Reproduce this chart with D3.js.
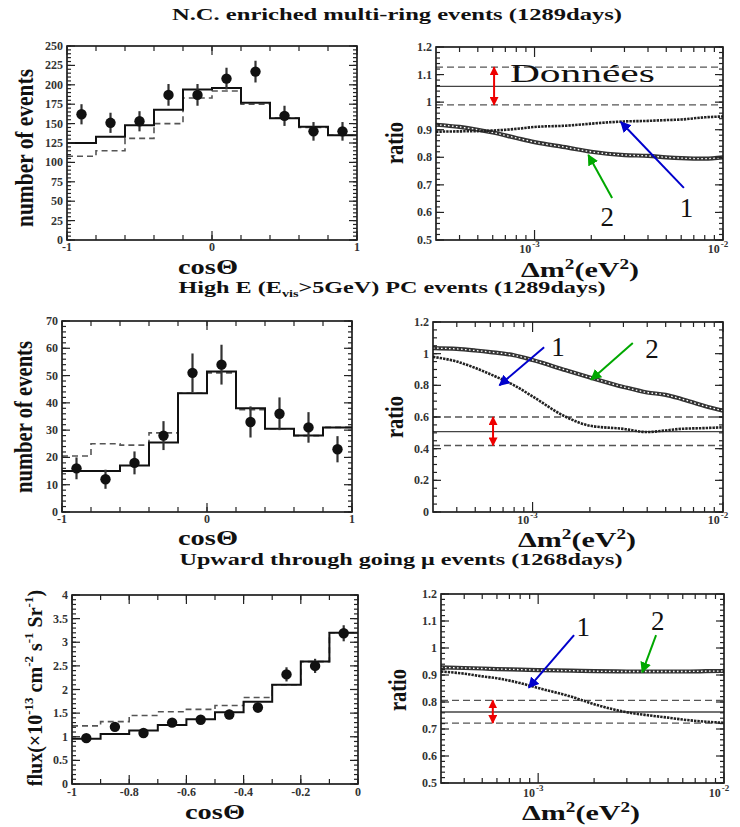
<!DOCTYPE html>
<html><head><meta charset="utf-8">
<script src="https://cdn.jsdelivr.net/npm/d3@7"></script>
<style>body{margin:0;background:#fff}</style>
</head><body>
<svg id="c" width="740" height="827" xmlns="http://www.w3.org/2000/svg"></svg>
<script>
// ---------- DATA ----------
const titles = [
  "N.C. enriched multi-ring events (1289days)",
  "High E (E_vis>5GeV) PC events (1289days)",
  "Upward through going \u03bc events (1268days)"
];
// cos(theta) bin edges
const cosEdges = [-1,-0.8,-0.6,-0.4,-0.2,0,0.2,0.4,0.6,0.8,1];
const upEdges  = [-1,-0.9,-0.8,-0.7,-0.6,-0.5,-0.4,-0.3,-0.2,-0.1,0];

// N.C. enriched multi-ring
const ncData   = [162,151,153,187,187,208,217,160,140,140];
const ncErr    = [13,13,13,14,14,14,14,13,12,12];
const ncSolid  = [125,133,148,168,194,196,177,157,146,135];
const ncDashed = [108,115,131,150,183,192,175,157,145,135];

// High E PC
const pcData   = [16,12,18,28,51,54,33,36,31,23];
const pcErr    = [4,3.5,4.2,5.3,7.1,7.3,5.7,6,5.6,4.8];
const pcSolid  = [15,15,17,25.5,43.5,51.5,38,30.5,28,31];
const pcDashed = [20.5,25,24.5,29,43.5,51,37.5,30.5,28,31];

// Upward through-going mu
const upData   = [0.97,1.21,1.08,1.30,1.36,1.47,1.62,2.32,2.50,3.19];
const upErr    = [0.08,0.09,0.08,0.09,0.09,0.10,0.11,0.15,0.15,0.17];
const upSolid  = [0.96,1.06,1.13,1.25,1.37,1.52,1.74,2.10,2.59,3.20];
const upDashed = [1.23,1.32,1.45,1.53,1.58,1.66,1.83,2.10,2.59,3.20];

// Ratio curves vs delta m^2
const dmGrid = [3e-4,4e-4,5e-4,6e-4,8e-4,1e-3,1.5e-3,2e-3,3e-3,4e-3,5e-3,6e-3,8e-3,1e-2];
const ncCurve1 = [0.893,0.894,0.895,0.897,0.903,0.910,0.915,0.922,0.930,0.932,0.935,0.937,0.945,0.948];
const ncCurve2 = [0.918,0.910,0.900,0.890,0.870,0.855,0.835,0.820,0.808,0.805,0.800,0.797,0.795,0.800];
const pcCurve1 = [0.980,0.950,0.910,0.870,0.800,0.730,0.600,0.545,0.525,0.505,0.515,0.525,0.530,0.535];
const pcCurve2 = [1.035,1.030,1.020,1.010,0.990,0.960,0.895,0.850,0.790,0.755,0.740,0.715,0.670,0.640];
const upCurve1 = [0.913,0.905,0.895,0.888,0.870,0.852,0.820,0.792,0.762,0.750,0.742,0.735,0.727,0.723];
const upCurve2 = [0.928,0.926,0.924,0.922,0.920,0.918,0.916,0.914,0.913,0.913,0.913,0.913,0.914,0.915];

// measured ratio: [central, low, high]
const ncBand = [1.057,0.990,1.127];
const pcBand = [0.508,0.420,0.600];
const upBand = [0.763,0.722,0.806];

// ---------- DRAWING ----------
const SERIF = "'Times New Roman','Liberation Serif',Times,serif";
const svg = d3.select("#c");
const defs = svg.append("defs");
function marker(id, color, size){
  defs.append("marker").attr("id",id).attr("viewBox","0 0 10 10")
    .attr("refX",9).attr("refY",5).attr("markerWidth",size).attr("markerHeight",size)
    .attr("markerUnits","userSpaceOnUse").attr("orient","auto-start-reverse")
    .append("path").attr("d","M0,0L10,5L0,10z").attr("fill",color);
}
marker("ahRed","#ee0000",9);
marker("ahBlue","#0000cc",11);
marker("ahGreen","#00a800",11);

// titles
function title(txt, cx, base, len){
  const t = svg.append("text").attr("x",cx).attr("y",base).attr("text-anchor","middle")
    .attr("font-family",SERIF).attr("font-weight","bold").attr("font-size",17).attr("fill","#111");
  if (txt.includes("_vis")) {
    const parts = txt.split("_vis");
    t.append("tspan").text(parts[0]);
    t.append("tspan").attr("font-size",10).attr("dy",4).text("vis");
    t.append("tspan").attr("dy",-4).text(parts[1]);
  } else t.text(txt);
  t.attr("textLength",len).attr("lengthAdjust","spacingAndGlyphs");
}
title(titles[0], 397, 20, 450);
title(titles[1], 392, 293, 427);
title(titles[2], 401, 565, 443);

function drawFrame(g, f){
  g.append("rect").attr("x",f.l).attr("y",f.t).attr("width",f.r-f.l).attr("height",f.b-f.t)
    .attr("fill","none").attr("stroke","#111").attr("stroke-width",1.6);
}
function xTicks(g, x, f, vals, len){
  vals.forEach(v=>{
    const px = x(v);
    g.append("line").attr("x1",px).attr("x2",px).attr("y1",f.b).attr("y2",f.b-len).attr("stroke","#222").attr("stroke-width",1.2);
    g.append("line").attr("x1",px).attr("x2",px).attr("y1",f.t).attr("y2",f.t+len).attr("stroke","#222").attr("stroke-width",1.2);
  });
}
function yTicks(g, y, f, vals, len){
  vals.forEach(v=>{
    const py = y(v);
    g.append("line").attr("y1",py).attr("y2",py).attr("x1",f.l).attr("x2",f.l+len).attr("stroke","#222").attr("stroke-width",1.2);
    g.append("line").attr("y1",py).attr("y2",py).attr("x1",f.r).attr("x2",f.r-len).attr("stroke","#222").attr("stroke-width",1.2);
  });
}
function tickLabel(g, x, y, txt, anchor){
  g.append("text").attr("x",x).attr("y",y).attr("text-anchor",anchor)
    .attr("font-family",SERIF).attr("font-weight","bold").attr("font-size",12).attr("fill","#333").text(txt);
}
function range(a,b,s){ const o=[]; for(let v=a; v<=b+s*1e-6; v+=s) o.push(+v.toFixed(6)); return o; }
const fmt = v => String(+v.toFixed(2));

function yLabelRot(g, txt, bx, cy, size, len){
  g.append("text").attr("transform",`translate(${bx},${cy}) rotate(-90)`).attr("text-anchor","middle")
    .attr("font-family",SERIF).attr("font-weight","bold").attr("font-size",size).attr("fill","#111")
    .attr("textLength",len).attr("lengthAdjust","spacingAndGlyphs").text(txt);
}
function cosLabel(g, cx, base){
  g.append("text").attr("x",cx).attr("y",base).attr("text-anchor","middle")
    .attr("font-family",SERIF).attr("font-weight","bold").attr("font-size",22).attr("fill","#111")
    .attr("textLength",60).attr("lengthAdjust","spacingAndGlyphs").text("cos\u0398");
}
function dmLabel(g, cx, base){
  const t = g.append("text").attr("x",cx).attr("y",base).attr("text-anchor","middle")
    .attr("font-family",SERIF).attr("font-weight","bold").attr("font-size",22).attr("fill","#111");
  t.append("tspan").text("\u0394m");
  t.append("tspan").attr("font-size",14).attr("dy",-8).text("2");
  t.append("tspan").attr("dy",8).text("(eV");
  t.append("tspan").attr("font-size",14).attr("dy",-8).text("2");
  t.append("tspan").attr("dy",8).text(")");
  t.attr("textLength",118).attr("lengthAdjust","spacingAndGlyphs");
}

function histPanel(c){
  const g = svg.append("g");
  const f = c.f;
  const x = d3.scaleLinear().domain(c.xDom).range([f.l,f.r]);
  const y = d3.scaleLinear().domain(c.yDom).range([f.b,f.t]);
  const steps = vals => { const p=[]; vals.forEach((v,i)=>{p.push([c.edges[i],v]);p.push([c.edges[i+1],v]);}); return p; };
  const line = d3.line().x(d=>x(d[0])).y(d=>y(d[1]));
  g.append("path").attr("d",line(steps(c.dashed))).attr("fill","none").attr("stroke","#555").attr("stroke-width",1.6).attr("stroke-dasharray","6,4");
  g.append("path").attr("d",line(steps(c.solid))).attr("fill","none").attr("stroke","#111").attr("stroke-width",2);
  const centers = c.data.map((d,i)=>(c.edges[i]+c.edges[i+1])/2);
  c.data.forEach((d,i)=>{
    g.append("line").attr("x1",x(centers[i])).attr("x2",x(centers[i])).attr("y1",y(d-c.err[i])).attr("y2",y(d+c.err[i]))
      .attr("stroke","#333").attr("stroke-width",2.2);
    g.append("circle").attr("cx",x(centers[i])).attr("cy",y(d)).attr("r",5.2).attr("fill","#111");
  });
  drawFrame(g,f);
  xTicks(g,x,f,c.xMinor,5); xTicks(g,x,f,c.xMajor,9);
  yTicks(g,y,f,c.yMinor,4); yTicks(g,y,f,c.yMajor,8);
  c.yMajor.forEach(v=>tickLabel(g,f.l-4,y(v)+4,fmt(v),"end"));
  c.xMajor.forEach(v=>tickLabel(g,x(v),f.b+c.xlabOff,fmt(v),"middle"));
  return g;
}

function ratioPanel(c){
  const g = svg.append("g");
  const f = c.f;
  const x = d3.scaleLog().domain([3e-4,1e-2]).range([f.l,f.r]);
  const y = d3.scaleLinear().domain(c.yDom).range([f.b,f.t]);
  const clipId = "clip"+c.id;
  defs.append("clipPath").attr("id",clipId).append("rect").attr("x",f.l).attr("y",f.t).attr("width",f.r-f.l).attr("height",f.b-f.t);
  const gc = g.append("g").attr("clip-path",`url(#${clipId})`);
  // measured band
  gc.append("line").attr("x1",f.l).attr("x2",f.r).attr("y1",y(c.band[0])).attr("y2",y(c.band[0])).attr("stroke","#444").attr("stroke-width",1.3);
  [c.band[1],c.band[2]].forEach(v=>gc.append("line").attr("x1",f.l).attr("x2",f.r).attr("y1",y(v)).attr("y2",y(v))
      .attr("stroke","#555").attr("stroke-width",1.3).attr("stroke-dasharray","7,4"));
  const line = d3.line().x((d,i)=>x(dmGrid[i])).y(d=>y(d)).curve(d3.curveMonotoneX);
  gc.append("path").attr("d",line(c.c2)).attr("fill","none").attr("stroke","#333").attr("stroke-width",4.2);
  gc.append("path").attr("d",line(c.c2)).attr("fill","none").attr("stroke","#fff").attr("stroke-width",1.3).attr("stroke-dasharray","1.6,2.4");
  gc.append("path").attr("d",line(c.c1)).attr("fill","none").attr("stroke","#222").attr("stroke-width",2.6).attr("stroke-dasharray","2.4,1");
  drawFrame(g,f);
  const minor = [4e-4,5e-4,6e-4,7e-4,8e-4,9e-4,2e-3,3e-3,4e-3,5e-3,6e-3,7e-3,8e-3,9e-3];
  xTicks(g,x,f,minor,5); xTicks(g,x,f,[1e-3,1e-2],10);
  yTicks(g,y,f,c.yMinor,4); yTicks(g,y,f,c.yMajor,8);
  c.yMajor.forEach(v=>tickLabel(g,f.l-4,y(v)+4,fmt(v),"end"));
  [[1e-3,"-3"],[1e-2,"-2"]].forEach(([v,e])=>{
    const t = g.append("text").attr("x",x(v)-5).attr("y",f.b+c.xlabOff).attr("text-anchor","middle")
      .attr("font-family",SERIF).attr("font-weight","bold").attr("font-size",12).attr("fill","#333");
    t.append("tspan").text("10");
    t.append("tspan").attr("font-size",9).attr("dy",-6).attr("dx",1).text(e);
  });
  // red double arrow
  g.append("line").attr("x1",x(c.redX)).attr("x2",x(c.redX)).attr("y1",y(c.band[2])).attr("y2",y(c.band[1]))
    .attr("stroke","#ee0000").attr("stroke-width",2).attr("marker-start","url(#ahRed)").attr("marker-end","url(#ahRed)");
  // labelled arrows
  c.arrows.forEach(a=>{
    g.append("line").attr("x1",x(a.from[0])).attr("y1",y(a.from[1])).attr("x2",x(a.to[0])).attr("y2",y(a.to[1]))
      .attr("stroke",a.color).attr("stroke-width",2).attr("marker-end",`url(#${a.head})`);
    g.append("text").attr("x",x(a.lab[0])).attr("y",y(a.lab[1])).attr("text-anchor","middle")
      .attr("font-family",SERIF).attr("font-size",27).attr("fill","#111").text(a.txt);
  });
  if (c.donnees) {
    g.append("text").attr("x",x(c.donnees[0])).attr("y",y(c.donnees[1])).attr("font-family",SERIF)
      .attr("font-size",26).attr("fill","#111").attr("textLength",145).attr("lengthAdjust","spacingAndGlyphs").text("Donn\u00e9es");
  }
  yLabelRot(g,"ratio",c.ylab[0],c.ylab[1],25,42);
  dmLabel(g, c.dm[0], c.dm[1]);
  return g;
}

// ---- left column ----
let g1 = histPanel({f:{l:67,t:46,r:357,b:240}, xDom:[-1,1], yDom:[0,250], edges:cosEdges,
  data:ncData, err:ncErr, solid:ncSolid, dashed:ncDashed,
  xMajor:[-1,0,1], xMinor:range(-1,1,0.2), yMajor:range(0,250,25), yMinor:range(0,250,5), xlabOff:11});
yLabelRot(g1,"number of events",33,148,26,158);
cosLabel(g1,208,274);

let g3 = histPanel({f:{l:62,t:321,r:352,b:512}, xDom:[-1,1], yDom:[0,70], edges:cosEdges,
  data:pcData, err:pcErr, solid:pcSolid, dashed:pcDashed,
  xMajor:[-1,0,1], xMinor:range(-1,1,0.2), yMajor:range(0,70,10), yMinor:range(0,70,2), xlabOff:11});
yLabelRot(g3,"number of events",32,417,26,152);
cosLabel(g3,208,545);

let g5 = histPanel({f:{l:72,t:595,r:358,b:784}, xDom:[-1,0], yDom:[0,4], edges:upEdges,
  data:upData, err:upErr, solid:upSolid, dashed:upDashed,
  xMajor:range(-1,0,0.2), xMinor:range(-1,0,0.1), yMajor:range(0,4,0.5), yMinor:range(0,4,0.1), xlabOff:12});
{
  const t = g5.append("text").attr("transform","translate(42,688) rotate(-90)").attr("text-anchor","middle")
    .attr("font-family",SERIF).attr("font-weight","bold").attr("font-size",20).attr("fill","#111");
  t.append("tspan").text("flux(\u00d710");
  t.append("tspan").attr("font-size",13).attr("dy",-9).text("-13");
  t.append("tspan").attr("dy",9).text(" cm");
  t.append("tspan").attr("font-size",13).attr("dy",-9).text("-2");
  t.append("tspan").attr("dy",9).text(" s");
  t.append("tspan").attr("font-size",13).attr("dy",-9).text("-1");
  t.append("tspan").attr("dy",9).text(" Sr");
  t.append("tspan").attr("font-size",13).attr("dy",-9).text("-1");
  t.append("tspan").attr("dy",9).text(")");
}
cosLabel(g5,215,819);

// ---- right column ----
ratioPanel({id:2, f:{l:436,t:47,r:723,b:240}, yDom:[0.5,1.2], yMajor:range(0.5,1.2,0.1), yMinor:range(0.5,1.2,0.02),
  c1:ncCurve1, c2:ncCurve2, band:ncBand, redX:6.1e-4, xlabOff:13,
  arrows:[
    {from:[6.2e-3,0.689], to:[2.87e-3,0.928], lab:[6.4e-3,0.585], txt:"1", color:"#0000cc", head:"ahBlue"},
    {from:[2.58e-3,0.652], to:[1.93e-3,0.808], lab:[2.43e-3,0.55], txt:"2", color:"#00a800", head:"ahGreen"}
  ],
  donnees:[7.4e-4,1.073], ylab:[403,143], dm:[580,277]});

ratioPanel({id:4, f:{l:433,t:322,r:723,b:512}, yDom:[0,1.2], yMajor:range(0,1.2,0.2), yMinor:range(0,1.2,0.05),
  c1:pcCurve1, c2:pcCurve2, band:pcBand, redX:6.2e-4, xlabOff:12,
  arrows:[
    {from:[1.15e-3,1.04], to:[6.7e-4,0.80], lab:[1.36e-3,0.985], txt:"1", color:"#0000cc", head:"ahBlue"},
    {from:[3.36e-3,1.068], to:[2.03e-3,0.836], lab:[4.24e-3,0.975], txt:"2", color:"#00a800", head:"ahGreen"}
  ],
  ylab:[403,417], dm:[577,547]});

ratioPanel({id:6, f:{l:441,t:594,r:724,b:783}, yDom:[0.5,1.2], yMajor:range(0.5,1.2,0.1), yMinor:range(0.5,1.2,0.02),
  c1:upCurve1, c2:upCurve2, band:upBand, redX:5.7e-4, xlabOff:14,
  arrows:[
    {from:[1.56e-3,1.048], to:[8.9e-4,0.853], lab:[1.75e-3,1.045], txt:"1", color:"#0000cc", head:"ahBlue"},
    {from:[4.31e-3,1.048], to:[3.63e-3,0.91], lab:[4.4e-3,1.065], txt:"2", color:"#00a800", head:"ahGreen"}
  ],
  ylab:[406,690], dm:[581,820]});
</script>
</body></html>
